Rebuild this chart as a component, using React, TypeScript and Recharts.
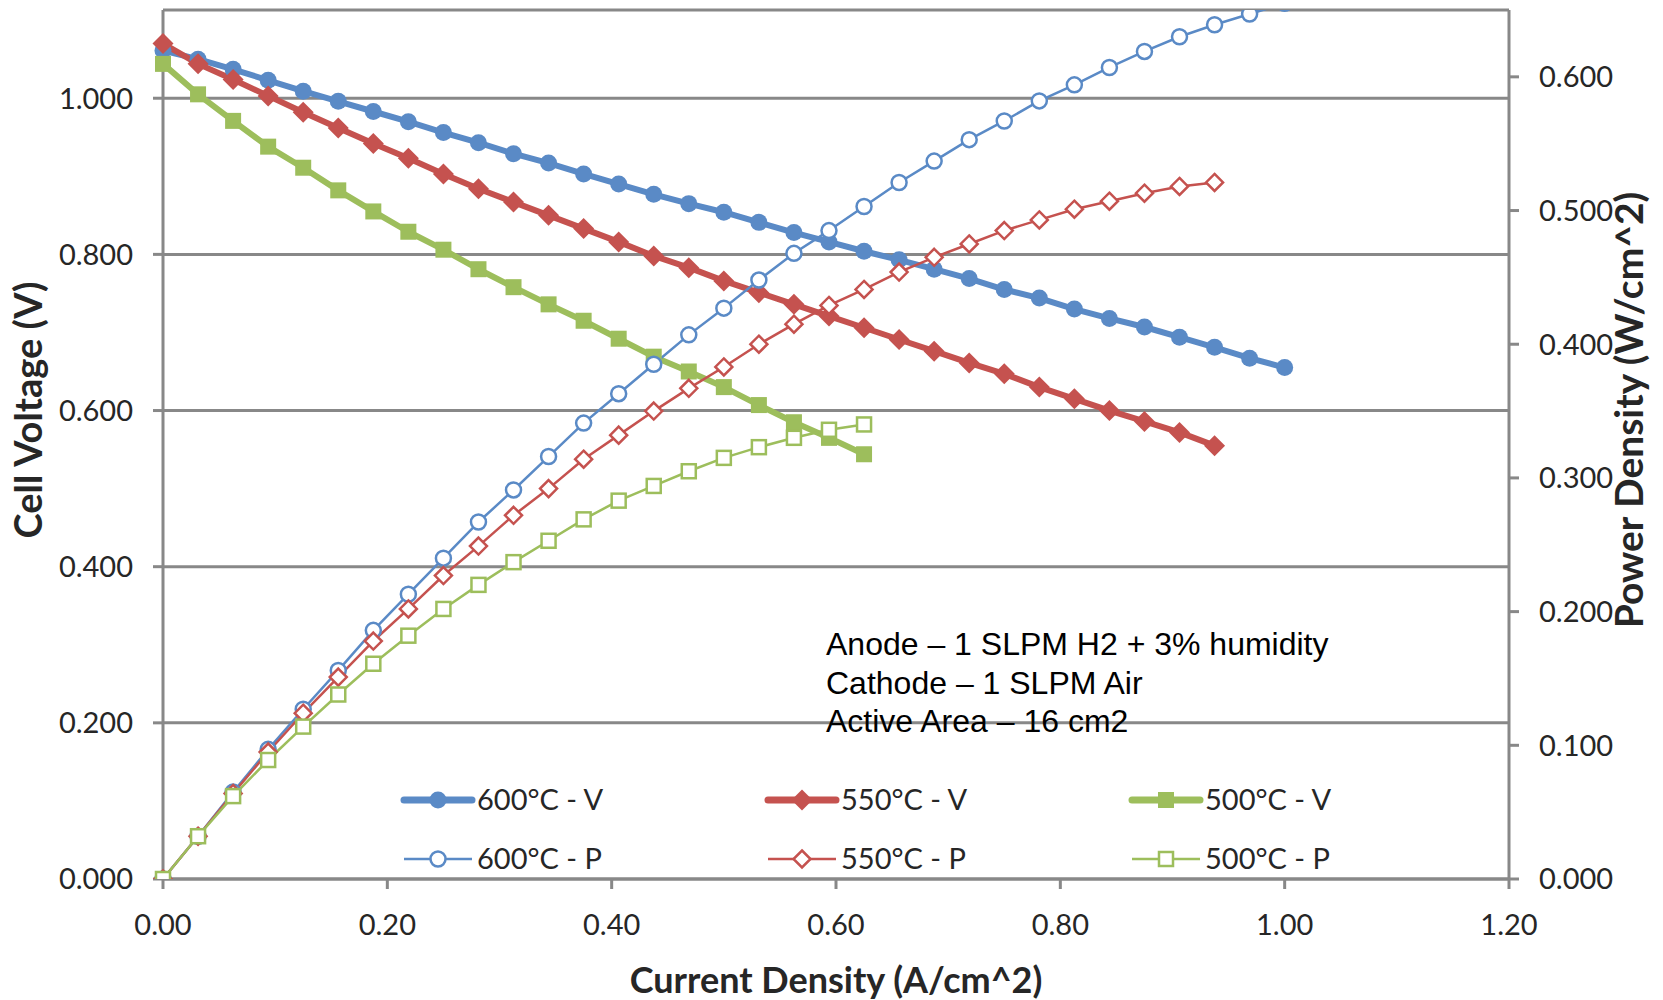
import React from 'react';
import { LineChart, Line, XAxis, YAxis, CartesianGrid, Label } from 'recharts';

// current steps of 0.5 A on a 16 cm2 cell, in A/cm^2
const CURRENT = [
  0, 0.03125, 0.0625, 0.09375, 0.125, 0.15625, 0.1875, 0.21875, 0.25, 0.28125,
  0.3125, 0.34375, 0.375, 0.40625, 0.4375, 0.46875, 0.5, 0.53125, 0.5625, 0.59375,
  0.625, 0.65625, 0.6875, 0.71875, 0.75, 0.78125, 0.8125, 0.84375, 0.875, 0.90625,
  0.9375, 0.96875, 1.0,
];

// cell voltage (V)
const V_600 = [
  1.061, 1.050, 1.037, 1.023, 1.009, 0.996, 0.983, 0.970, 0.956, 0.943,
  0.929, 0.917, 0.903, 0.890, 0.877, 0.865, 0.854, 0.841, 0.828, 0.816,
  0.804, 0.793, 0.781, 0.769, 0.755, 0.744, 0.730, 0.718, 0.707, 0.694,
  0.681, 0.667, 0.655,
];
const V_550 = [
  1.070, 1.044, 1.024, 1.003, 0.982, 0.962, 0.942, 0.923, 0.903, 0.884,
  0.867, 0.850, 0.833, 0.816, 0.798, 0.783, 0.766, 0.751, 0.736, 0.721,
  0.706, 0.691, 0.676, 0.661, 0.647, 0.630, 0.615, 0.600, 0.586, 0.572,
  0.555,
];
const V_500 = [
  1.044, 1.005, 0.971, 0.938, 0.911, 0.882, 0.855, 0.829, 0.806, 0.781,
  0.758, 0.736, 0.715, 0.692, 0.669, 0.650, 0.630, 0.607, 0.585, 0.565,
  0.544,
];

// power density (W/cm^2)
const P_600 = [
  0, 0.032, 0.065, 0.097, 0.127, 0.156, 0.186, 0.213, 0.240, 0.267,
  0.291, 0.316, 0.341, 0.363, 0.385, 0.407, 0.427, 0.448, 0.468, 0.485,
  0.503, 0.521, 0.537, 0.553, 0.567, 0.582, 0.594, 0.607, 0.619, 0.630,
  0.639, 0.647, 0.655,
];
const P_550 = [
  0, 0.032, 0.064, 0.095, 0.124, 0.151, 0.178, 0.202, 0.227, 0.249,
  0.272, 0.292, 0.314, 0.332, 0.350, 0.367, 0.383, 0.400, 0.415, 0.429,
  0.441, 0.454, 0.465, 0.475, 0.485, 0.493, 0.501, 0.507, 0.513, 0.518,
  0.521,
];
const P_500 = [
  0, 0.032, 0.062, 0.089, 0.114, 0.138, 0.161, 0.182, 0.202, 0.220,
  0.237, 0.253, 0.269, 0.283, 0.294, 0.305, 0.315, 0.323, 0.330, 0.336,
  0.340,
];

const X_TICKS = [0, 0.2, 0.4, 0.6, 0.8, 1.0, 1.2];
const V_TICKS = [0, 0.2, 0.4, 0.6, 0.8, 1.0];
const P_TICKS = [0, 0.1, 0.2, 0.3, 0.4, 0.5, 0.6];

const NOTES = [
  'Anode – 1 SLPM H2 + 3% humidity',
  'Cathode – 1 SLPM Air',
  'Active Area – 16 cm2',
];

const V_MAX = 1.113;
const P_MAX = 0.65;

const BLUE = '#5A8AC6';
const RED = '#C5524F';
const GREEN = '#9DBE5C';
const GRID = '#888888';
const INK = '#262626';
const FONT = 'Lato, "Open Sans", sans-serif';

type Shape = 'circle' | 'diamond' | 'square';

interface SeriesDef {
  name: string;
  values: number[];
  axis: 'v' | 'p';
  color: string;
  shape: Shape;
}

const SERIES: SeriesDef[] = [
  { name: '600°C - V', values: V_600, axis: 'v', color: BLUE, shape: 'circle' },
  { name: '550°C - V', values: V_550, axis: 'v', color: RED, shape: 'diamond' },
  { name: '500°C - V', values: V_500, axis: 'v', color: GREEN, shape: 'square' },
  { name: '600°C - P', values: P_600, axis: 'p', color: BLUE, shape: 'circle' },
  { name: '550°C - P', values: P_550, axis: 'p', color: RED, shape: 'diamond' },
  { name: '500°C - P', values: P_500, axis: 'p', color: GREEN, shape: 'square' },
];

const toPoints = (values: number[]) => values.map((y, i) => ({ x: CURRENT[i], y }));

const markerSize = (shape: Shape, filled: boolean) => {
  if (shape === 'diamond') return filled ? 21 : 17;
  if (shape === 'circle') return filled ? 17 : 15;
  return filled ? 16 : 14;
};

function Marker({ cx, cy, shape, color, filled }: { cx: number; cy: number; shape: Shape; color: string; filled: boolean }) {
  const size = markerSize(shape, filled);
  const h = size / 2;
  const paint = {
    fill: filled ? color : '#ffffff',
    stroke: color,
    strokeWidth: filled ? 0 : 2.5,
  };
  if (shape === 'circle') return <circle cx={cx} cy={cy} r={h} {...paint} />;
  if (shape === 'diamond') {
    return <polygon points={`${cx},${cy - h} ${cx + h},${cy} ${cx},${cy + h} ${cx - h},${cy}`} {...paint} />;
  }
  return <rect x={cx - h} y={cy - h} width={size} height={size} {...paint} />;
}

const dotRenderer = (s: SeriesDef) => (props: any) => {
  const { cx, cy, index } = props;
  if (cx == null || cy == null) return <g key={`dot-${index}`} />;
  return (
    <g key={`dot-${index}`}>
      <Marker cx={cx} cy={cy} shape={s.shape} color={s.color} filled={s.axis === 'v'} />
    </g>
  );
};

// vertical titles sit at the middle of the nominal 0 - 1.2 V range
const TITLE_Y = 410;

function SideTitle({ x, text, size }: { x: number; text: string; size: number }) {
  return (
    <text
      x={x}
      y={TITLE_Y}
      transform={`rotate(-90 ${x} ${TITLE_Y})`}
      textAnchor="middle"
      fontFamily={FONT}
      fontWeight="bold"
      fontSize={size}
      fill={INK}
    >
      {text}
    </text>
  );
}

function LegendAndNotes() {
  return (
    <svg width={1663} height={1000} style={{ position: 'absolute', left: 0, top: 0, pointerEvents: 'none' }}>
      {SERIES.map((s, i) => {
        const x = 404 + (i % 3) * 364;
        const y = 800 + Math.floor(i / 3) * 59;
        const thick = s.axis === 'v';
        return (
          <g key={s.name}>
            <line
              x1={x}
              y1={y}
              x2={x + 68}
              y2={y}
              stroke={s.color}
              strokeWidth={thick ? 7 : 2.5}
              strokeLinecap={thick ? 'round' : 'butt'}
            />
            <Marker cx={x + 34} cy={y} shape={s.shape} color={s.color} filled={thick} />
            <text x={x + 73} y={y + 10} fontFamily={FONT} fontSize={29} fill={INK}>
              {s.name}
            </text>
          </g>
        );
      })}
      {NOTES.map((t, i) => (
        <text key={t} x={826} y={655 + i * 38.5} fontFamily='"Liberation Sans", Arial, sans-serif' fontSize={32} fill="#000">
          {t}
        </text>
      ))}
    </svg>
  );
}

export default function App() {
  const axisLine = { stroke: GRID, strokeWidth: 3 };
  const tick = { fill: INK, fontSize: 29, fontFamily: FONT };

  return (
    <div style={{ position: 'relative', width: 1663, height: 1000, background: '#fff' }}>
      <style>{'body{margin:0}'}</style>
      <LineChart width={1663} height={1000} margin={{ top: 10, right: 0, bottom: 0, left: 0 }}>
        <CartesianGrid yAxisId="v" vertical={false} stroke={GRID} strokeWidth={3} />
        <XAxis
          type="number"
          dataKey="x"
          domain={[0, 1.2]}
          ticks={X_TICKS}
          interval={0}
          tickFormatter={(v: number) => v.toFixed(2)}
          height={121}
          tickSize={10}
          tickMargin={25}
          axisLine={axisLine}
          tickLine={axisLine}
          tick={tick}
        >
          <Label
            value="Current Density (A/cm^2)"
            position="insideBottom"
            offset={7}
            fontFamily={FONT}
            fontWeight="bold"
            fontSize={36}
            fill={INK}
          />
        </XAxis>
        <YAxis
          yAxisId="v"
          orientation="left"
          type="number"
          domain={[0, V_MAX]}
          ticks={V_TICKS}
          interval={0}
          tickFormatter={(v: number) => v.toFixed(3)}
          width={163}
          tickSize={10}
          tickMargin={20}
          axisLine={axisLine}
          tickLine={axisLine}
          tick={tick}
        >
          <Label content={() => <SideTitle x={42} size={38} text="Cell Voltage (V)" />} />
        </YAxis>
        {/* 600°C power runs past the top of the right axis and is clipped there */}
        <YAxis
          yAxisId="p"
          orientation="right"
          type="number"
          domain={[0, P_MAX]}
          allowDataOverflow
          ticks={P_TICKS}
          interval={0}
          tickFormatter={(v: number) => v.toFixed(3)}
          width={154}
          tickSize={10}
          tickMargin={20}
          axisLine={axisLine}
          tickLine={axisLine}
          tick={tick}
        >
          <Label content={() => <SideTitle x={1643} size={39} text="Power Density (W/cm^2)" />} />
        </YAxis>
        {SERIES.map((s) => (
          <Line
            key={s.name}
            name={s.name}
            yAxisId={s.axis}
            data={toPoints(s.values)}
            dataKey="y"
            type="linear"
            stroke={s.color}
            strokeWidth={s.axis === 'v' ? 6 : 2.5}
            strokeLinejoin="round"
            dot={dotRenderer(s)}
            activeDot={false}
            isAnimationActive={false}
          />
        ))}
      </LineChart>
      <LegendAndNotes />
    </div>
  );
}
